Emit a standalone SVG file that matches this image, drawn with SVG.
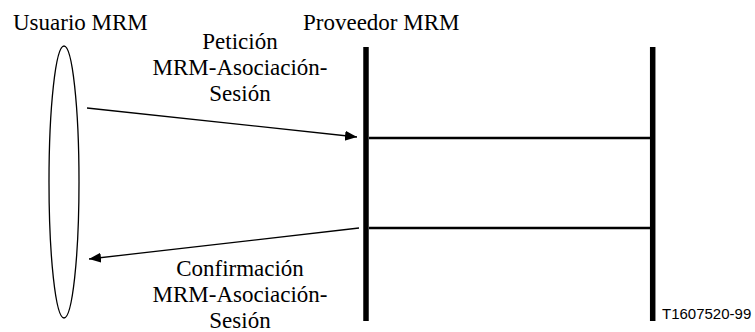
<svg xmlns="http://www.w3.org/2000/svg" width="755" height="332" viewBox="0 0 755 332">
<style>
text.lbl{font-family:'Liberation Serif','Times New Roman',Times,'DejaVu Serif',serif;font-size:23px;fill:#000}
text.mid{text-anchor:middle}
text.code{font-family:'Liberation Sans',Arial,sans-serif;font-size:15px;fill:#000}
.bar{stroke:#000;stroke-width:5.5;fill:none}
.link{stroke:#000;stroke-width:2.3;fill:none}
.msg{stroke:#000;stroke-width:1.3;fill:none;marker-end:url(#ah)}
</style>
<defs>
<marker id="ah" markerUnits="userSpaceOnUse" markerWidth="13" markerHeight="11" refX="12" refY="5" orient="auto">
<path d="M0,0 L12,5 L0,10 Z" fill="#000"/>
</marker>
</defs>
<rect width="755" height="332" fill="#fff"/>
<g id="usuario">
<ellipse cx="64" cy="182" rx="15" ry="136" fill="none" stroke="#000" stroke-width="1.3"/>
<text class="lbl" font-family="Liberation Serif, serif" x="13" y="30">Usuario MRM</text>
</g>
<g id="proveedor">
<line class="bar" x1="366" y1="47" x2="366" y2="321"/>
<line class="bar" x1="652.7" y1="47" x2="652.7" y2="321"/>
<line class="link" x1="369" y1="138" x2="650" y2="138"/>
<line class="link" x1="369" y1="228" x2="650" y2="228"/>
<text class="lbl" font-family="Liberation Serif, serif" x="303" y="30">Proveedor MRM</text>
</g>
<g id="connectors">
<line class="msg" x1="87" y1="108" x2="357" y2="137"/>
<line class="msg" x1="359" y1="228" x2="89" y2="259"/>
</g>
<g id="labels" font-family="Liberation Serif, serif">
<text class="lbl mid" x="240" y="49">Petición</text>
<text class="lbl mid" x="240" y="75">MRM-Asociación-</text>
<text class="lbl mid" x="240" y="101">Sesión</text>
<text class="lbl mid" x="240" y="276">Confirmación</text>
<text class="lbl mid" x="240" y="302">MRM-Asociación-</text>
<text class="lbl mid" x="240" y="328">Sesión</text>
<text class="code" x="662" y="319">T1607520-99</text>
</g>
</svg>
